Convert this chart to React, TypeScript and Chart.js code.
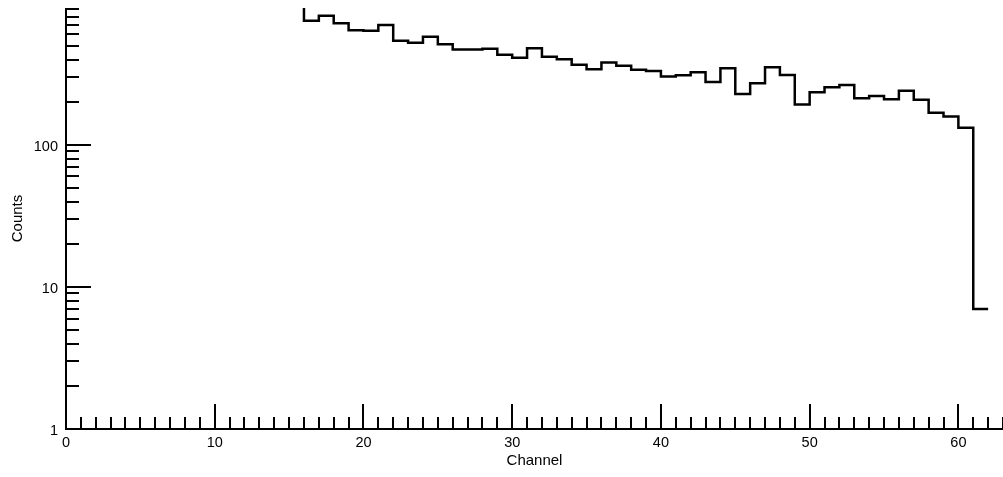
import React, { useEffect, useRef } from "react";
import { Chart, registerables } from "chart.js";

Chart.register(...registerables);

// Histogram: bin low edges (channel) and counts
const firstChannel = 16;
const counts = [
  750, 814, 719, 642, 638, 700, 543, 525, 578, 512,
  471, 470, 477, 432, 411, 481, 418, 401, 367, 342,
  381, 362, 339, 332, 304, 310, 325, 278, 347, 229,
  272, 353, 311, 193, 235, 255, 265, 213, 221, 210,
  241, 208, 169, 159, 132, 7,
];
// bin 15 lies above the top of the frame (only its falling edge is visible)
const offScaleChannel = 15;
const offScaleCount = 1200;
const lastEdge = 62;

const xTickLabels = [0, 10, 20, 30, 40, 50, 60];
const yTickLabels = [1, 10, 100];
const xMin = 0;
const xMax = 63;
const yMin = 1;
const yMax = 922;

const FONT = "'Liberation Sans', Arial, Helvetica, sans-serif";

const axesPlugin = {
  id: "rootAxes",
  afterDraw(chart: any) {
    const { ctx, chartArea, scales } = chart;
    const xs = scales.x;
    const ys = scales.y;
    const { left, right, top, bottom } = chartArea;
    ctx.save();
    ctx.strokeStyle = "#000";
    ctx.lineCap = "butt";
    ctx.lineWidth = 2;
    ctx.beginPath();
    ctx.moveTo(left, top);
    ctx.lineTo(left, bottom);
    ctx.lineTo(right, bottom);
    ctx.stroke();

    ctx.lineWidth = 2;
    ctx.beginPath();
    for (let d = yMin; d <= yMax; d *= 10) {
      for (let m = 1; m <= 9; m++) {
        const v = d * m;
        if (v > yMax) break;
        const py = Math.round(ys.getPixelForValue(v));
        const len = m === 1 ? 25 : 13;
        ctx.moveTo(left, py);
        ctx.lineTo(left + len, py);
      }
    }
    for (let i = Math.ceil(xMin); i <= xMax; i++) {
      const px = Math.round(xs.getPixelForValue(i));
      const len = i % 10 === 0 ? 25 : 12;
      ctx.moveTo(px, bottom);
      ctx.lineTo(px, bottom - len);
    }
    ctx.stroke();
    ctx.restore();
  },
};

export default function App() {
  const ref = useRef<HTMLCanvasElement | null>(null);

  useEffect(() => {
    if (!ref.current) return;
    const points = [{ x: offScaleChannel, y: offScaleCount }]
      .concat(counts.map((c, i) => ({ x: firstChannel + i, y: c })))
      .concat([{ x: lastEdge, y: counts[counts.length - 1] }]);

    const chart = new Chart(ref.current, {
      type: "line",
      data: {
        datasets: [
          {
            data: points,
            stepped: true,
            borderColor: "#000",
            borderWidth: 2.5,
            pointRadius: 0,
            fill: false,
            tension: 0,
          },
        ],
      },
      options: {
        animation: false,
        responsive: false,
        devicePixelRatio: 1,
        layout: { padding: { top: 8, left: 0, right: 0, bottom: 0 } },
        plugins: { legend: { display: false }, tooltip: { enabled: false } },
        scales: {
          x: {
            type: "linear",
            min: xMin,
            max: xMax,
            grid: { display: false, drawTicks: false },
            border: { display: false },
            afterBuildTicks: (s: any) => {
              s.ticks = xTickLabels.map((v) => ({ value: v }));
            },
            ticks: {
              padding: 5,
              autoSkip: false,
              maxRotation: 0,
              color: "#000",
              font: { family: FONT, size: 14.5 },
              callback: (v: any) => String(v),
            },
            title: {
              display: true,
              text: "Channel",
              color: "#000",
              font: { family: FONT, size: 15 },
              padding: { top: 0, bottom: 7 },
            },
            afterFit: (s: any) => {
              s.height = 48;
              s.paddingLeft = 0;
              s.paddingRight = 0;
            },
          },
          y: {
            type: "logarithmic",
            min: yMin,
            max: yMax,
            grid: { display: false, drawTicks: false },
            border: { display: false },
            afterBuildTicks: (s: any) => {
              s.ticks = yTickLabels.map((v) => ({ value: v }));
            },
            ticks: {
              padding: 8,
              autoSkip: false,
              labelOffset: 2,
              color: "#000",
              font: { family: FONT, size: 14.5 },
              callback: (v: any) => String(v),
            },
            title: {
              display: true,
              text: "Counts",
              color: "#000",
              font: { family: FONT, size: 15 },
              padding: { top: 9, bottom: 0 },
            },
            afterFit: (s: any) => {
              s.width = 66;
              s.paddingTop = 0;
              s.paddingBottom = 0;
            },
          },
        },
      },
      plugins: [axesPlugin],
    } as any);
    return () => chart.destroy();
  }, []);

  return (
    <div
      style={{
        position: "fixed",
        left: 0,
        top: 0,
        width: 1003,
        height: 477,
        background: "#fff",
      }}
    >
      <canvas
        ref={ref}
        width={1003}
        height={477}
        style={{ display: "block", width: 1003, height: 477 }}
      />
    </div>
  );
}
